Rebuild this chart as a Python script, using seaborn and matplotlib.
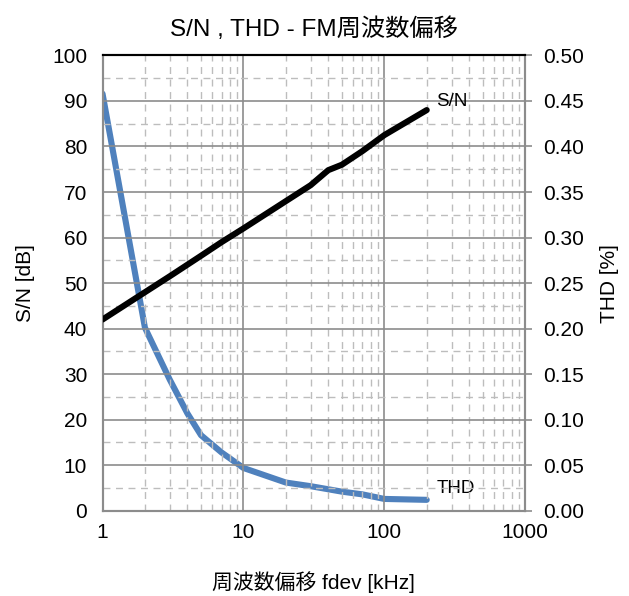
import matplotlib
matplotlib.use("Agg")
import matplotlib.pyplot as plt
from matplotlib.ticker import FixedLocator, NullFormatter, LogLocator
import seaborn as sns
import pandas as pd

# S/N vs. frequency deviation
sn_fdev = [1, 2, 3, 5, 7, 10, 20, 30, 40, 50, 70, 100, 200]
sn_db = [42, 48, 51.5, 56, 59, 62, 68, 71.5, 74.8, 76, 79, 82.5, 88]

# THD vs. frequency deviation
thd_fdev = [1, 2, 3, 4, 5, 7, 10, 20, 30, 50, 70, 100, 200]
thd_pct = [0.458, 0.201, 0.144, 0.107, 0.083, 0.064, 0.047, 0.031, 0.027, 0.021, 0.018, 0.013, 0.012]

x_ticks = [1, 10, 100, 1000]
x_tick_labels = ["1", "10", "100", "1000"]
left_ticks = list(range(0, 101, 10))
right_ticks = [i * 0.05 for i in range(11)]

title = "S/N , THD - FM周波数偏移"
x_label = "周波数偏移 fdev [kHz]"
left_label = "S/N [dB]"
right_label = "THD [%]"

sns.set_theme(style="white")
fonts = ["Liberation Sans", "Noto Sans CJK JP", "DejaVu Sans"]
plt.rcParams["font.family"] = fonts
plt.rcParams["text.color"] = "black"
plt.rcParams["axes.labelcolor"] = "black"

sn_df = pd.DataFrame({"fdev": sn_fdev, "sn": sn_db})
thd_df = pd.DataFrame({"fdev": thd_fdev, "thd": thd_pct})

fig = plt.figure(figsize=(6.29, 5.96), dpi=100)
ax = fig.add_axes([0.163, 0.143, 0.672, 0.764])
ax2 = ax.twinx()

grid_major = "#8c8c8c"
grid_minor = "#bdbdbd"

ax.set_xscale("log")
ax.set_xlim(1, 1000)
ax.set_ylim(0, 100)
ax2.set_ylim(0, 0.5)

# grid: solid at decades / every 10 dB, dashed at minor positions
ax.xaxis.set_major_locator(FixedLocator(x_ticks))
ax.set_xticklabels(x_tick_labels)
ax.xaxis.set_minor_locator(LogLocator(base=10, subs=range(2, 10)))
ax.xaxis.set_minor_formatter(NullFormatter())
ax.yaxis.set_major_locator(FixedLocator(left_ticks))
ax.yaxis.set_minor_locator(FixedLocator(list(range(5, 100, 10))))
ax.grid(True, which="major", axis="both", color=grid_major, lw=1.2, ls="-")
ax.grid(True, which="minor", axis="both", color=grid_minor, lw=1.0, ls=(0, (5, 4)))
ax.set_axisbelow(True)

sns.lineplot(data=thd_df, x="fdev", y="thd", ax=ax2, color="#4F81BD", lw=4.4,
             solid_capstyle="round", solid_joinstyle="round")
sns.lineplot(data=sn_df, x="fdev", y="sn", ax=ax, color="black", lw=4.4,
             solid_capstyle="round", solid_joinstyle="round", zorder=5)
ax.set_zorder(ax2.get_zorder() + 1)
ax.patch.set_visible(False)

ax.text(sn_fdev[-1] * 1.17, sn_db[-1] + 1.8, "S/N", fontsize=13.5, ha="left", va="center",
        color="black")
ax2.text(thd_fdev[-1] * 1.17, thd_pct[-1] + 0.012, "THD", fontsize=13.5, ha="left",
         va="center", color="black")

ax2.set_yticks(right_ticks)
ax2.set_yticklabels([f"{v:.2f}" for v in right_ticks])
ax.set_yticks(left_ticks)
ax.set_yticklabels([str(v) for v in left_ticks])

for a in (ax, ax2):
    for side in ("left", "bottom", "right"):
        a.spines[side].set_color(grid_major)
        a.spines[side].set_linewidth(1.5)
    a.spines["top"].set_color("black")
    a.spines["top"].set_linewidth(1.5)

ax.tick_params(axis="both", which="both", length=0, labelsize=15, colors="black")
ax.tick_params(axis="x", pad=9)
ax.tick_params(axis="y", pad=11)
ax2.tick_params(axis="y", which="both", length=5, width=1.2, color=grid_major,
                labelsize=15, labelcolor="black", pad=8)

ax.set_xlabel(x_label, fontsize=15, labelpad=21)
ax.set_ylabel(left_label, fontsize=15, labelpad=12)
ax2.set_ylabel(right_label, fontsize=15, labelpad=11)
ax.set_title(title, fontsize=17.5, pad=14, color="black")

fig.savefig("out.png", dpi=100)
